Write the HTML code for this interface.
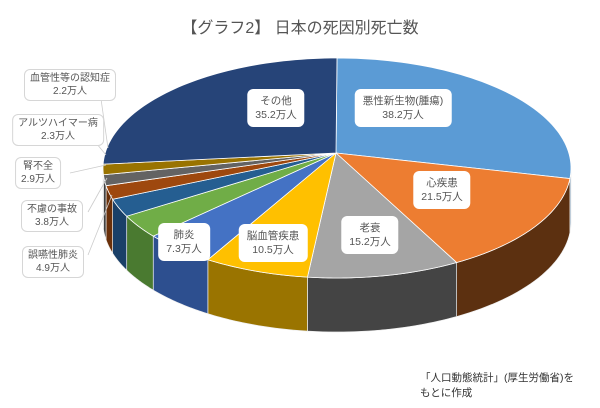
<!DOCTYPE html>
<html><head><meta charset="utf-8"><style>
body{margin:0;width:600px;height:408px;background:#fff;position:relative;overflow:hidden;font-family:"Liberation Sans","Noto Sans CJK JP",sans-serif;color:#555}
svg{z-index:0}
.t{position:absolute;left:0;width:600px;top:14px;text-align:center;font-size:16px;color:#555}
.l{position:absolute;z-index:2;background:#fff;border-radius:6px;text-align:center;font-size:10.5px;line-height:14px;padding:5px 8px;transform:translate(-50%,-50%);white-space:nowrap;color:#555}
.o{border:1px solid #d6d6d6;padding:2px 5px;line-height:13px;font-size:10px}
.f{position:absolute;left:420px;font-size:10.5px;color:#333}
</style></head><body>
<svg id="s" width="600" height="408" style="position:absolute;left:0;top:0"></svg>
<div class="t">【グラフ2】 日本の死因別死亡数</div>
<div class="l" style="left:403px;top:108px">悪性新生物(腫瘍)<br>38.2万人</div>
<div class="l" style="left:442px;top:190px">心疾患<br>21.5万人</div>
<div class="l" style="left:370px;top:235px">老衰<br>15.2万人</div>
<div class="l" style="left:273px;top:243px">脳血管疾患<br>10.5万人</div>
<div class="l" style="left:184px;top:242px">肺炎<br>7.3万人</div>
<div class="l" style="left:276px;top:108px">その他<br>35.2万人</div>
<div class="l o" style="left:70px;top:85px">血管性等の認知症<br>2.2万人</div>
<div class="l o" style="left:58px;top:130px">アルツハイマー病<br>2.3万人</div>
<div class="l o" style="left:38px;top:173px">腎不全<br>2.9万人</div>
<div class="l o" style="left:52px;top:216px">不慮の事故<br>3.8万人</div>
<div class="l o" style="left:53px;top:262px">誤嚥性肺炎<br>4.9万人</div>
<div class="f" style="top:370px">「人口動態統計」(厚生労働省)を</div>
<div class="f" style="top:385px">もとに作成</div>
<script>
(function(){
const d=[[38.2,'#5b9bd5','#3a6d9e'],[21.5,'#ed7d31','#5c3010'],[15.2,'#a5a5a5','#444'],[10.5,'#ffc000','#9a7400'],[7.3,'#4472c4','#2d4f8f'],[4.9,'#70ad47','#4a7a30'],[3.8,'#255e91','#1a4068'],[2.9,'#9e480e','#6a300a'],[2.3,'#636363','#404040'],[2.2,'#997300','#6a5000'],[35.2,'#264478','#1a2f55']];
const T=d.reduce((a,b)=>a+b[0],0);
const cx=337,cy=168,rx=234,ry=110,ax=336,ay=153,D=54;
function P(a,dy){return [cx+rx*Math.sin(a),cy-ry*Math.cos(a)+(dy||0)];}
let sides='',tops='',c=0;
d.forEach(([v,f,sd])=>{
 const a0=c/T*2*Math.PI;c+=v;const a1=c/T*2*Math.PI;
 const lo=Math.max(a0,Math.PI/2),hi=Math.min(a1,3*Math.PI/2);
 if(hi>lo){let p=[];const n=30;for(let i=0;i<=n;i++)p.push(P(lo+(hi-lo)*i/n));for(let i=n;i>=0;i--)p.push(P(lo+(hi-lo)*i/n,D));
  sides+=`<polygon points="${p.map(q=>q.join(',')).join(' ')}" fill="${sd}" stroke="#eee" stroke-width="0.7"/>`;}
 let p=[[ax,ay]];const n=60;for(let i=0;i<=n;i++)p.push(P(a0+(a1-a0)*i/n));
 tops+=`<polygon points="${p.map(q=>q.join(',')).join(' ')}" fill="${f}" stroke="#fff" stroke-width="0.8"/>`;
});
const lines=[[100,92,108,148],[92,138,106,155],[70,173,106,165],[88,212,107,178],[88,255,112,195]].map(l=>`<line x1="${l[0]}" y1="${l[1]}" x2="${l[2]}" y2="${l[3]}" stroke="#ccc" stroke-width="0.8"/>`).join('');
document.getElementById('s').innerHTML=sides+tops+lines;
})();
</script>
</body></html>
